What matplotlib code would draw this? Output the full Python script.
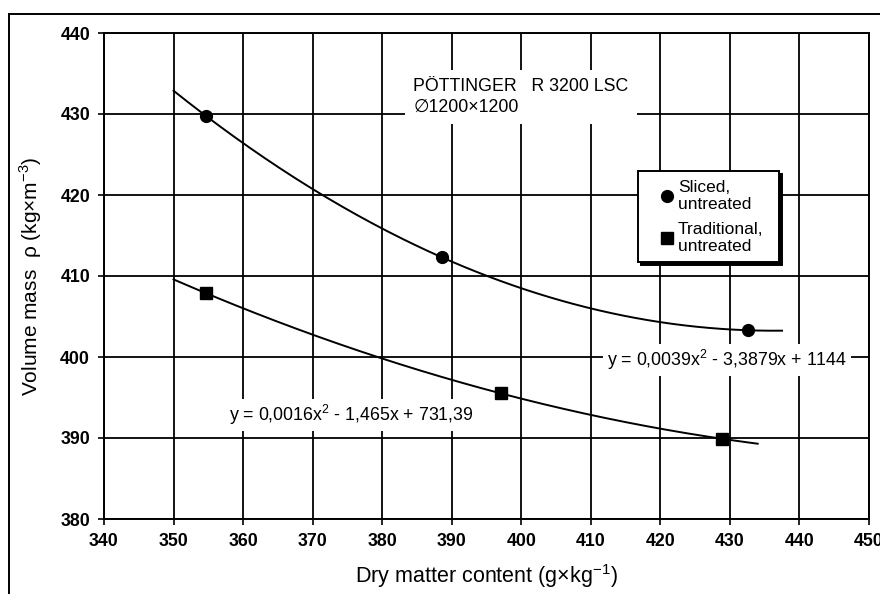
import numpy as np
import matplotlib
matplotlib.use("Agg")
import matplotlib.pyplot as plt
from matplotlib.lines import Line2D

plt.rcParams["font.family"] = ["Liberation Sans", "DejaVu Sans"]

# values
sliced_x = [354.6, 388.6, 432.6]
sliced_y = [429.8, 412.3, 403.3]
trad_x = [354.6, 397.1, 428.9]
trad_y = [407.9, 395.5, 389.9]

sliced_range = (350, 437.5)
trad_range = (350, 434)

sliced_eq = r"y = 0,0039x$^{\mathregular{2}}$ - 3,3879x + 1144"
trad_eq = r"y = 0,0016x$^{\mathregular{2}}$ - 1,465x + 731,39"
machine_text = "PÖTTINGER   R 3200 LSC\n\u22051200×1200"

x_ticks = list(range(340, 451, 10))
y_ticks = list(range(380, 441, 10))

fig = plt.figure(figsize=(8.8, 5.94), dpi=100)
ax = fig.add_axes([104 / 880, 1 - 519 / 594, 765 / 880, 486 / 594])

# outer frame of the scanned figure
fig.add_artist(Line2D([9 / 880, 9 / 880], [0, 1 - 14 / 594], transform=fig.transFigure,
                      color="black", lw=1.4))
fig.add_artist(Line2D([9 / 880, 1], [1 - 14 / 594, 1 - 14 / 594], transform=fig.transFigure,
                      color="black", lw=1.4))

ax.set_xlim(340, 450)
ax.set_ylim(380, 440)
ax.set_xticks(x_ticks)
ax.set_yticks(y_ticks)
ax.grid(True, color="black", lw=1.3)
ax.set_axisbelow(True)
for sp in ax.spines.values():
    sp.set_linewidth(1.4)
ax.tick_params(direction="out", length=4, width=1.2, labelsize=12.8, pad=6)
for lab in ax.get_xticklabels() + ax.get_yticklabels():
    lab.set_fontweight("bold")

# trendlines (2nd order fit through the points)
for xs, ys, rng in [(sliced_x, sliced_y, sliced_range), (trad_x, trad_y, trad_range)]:
    coef = np.polyfit(xs, ys, 2)
    xx = np.linspace(rng[0], rng[1], 200)
    ax.plot(xx, np.polyval(coef, xx), color="black", lw=1.4, zorder=3)

ax.plot(sliced_x, sliced_y, "o", color="black", ms=8.5, zorder=4, label="Sliced,\nuntreated    ")
ax.plot(trad_x, trad_y, "s", color="black", ms=8, zorder=4, label="Traditional,\nuntreated    ")

box = dict(facecolor="white", edgecolor="none", pad=3)
ax.text(429.6, 399.6, sliced_eq, fontsize=12.8, ha="center", va="center", bbox=box, zorder=5)
ax.text(375.5, 392.8, trad_eq, fontsize=12.8, ha="center", va="center", bbox=box, zorder=5)
ax.text(384.5, 434.4, machine_text, fontsize=12.8, ha="left", va="top", linespacing=1.25,
        bbox=dict(facecolor="white", edgecolor="none", pad=6), zorder=5)

leg = ax.legend(loc="upper left", bbox_to_anchor=(0.698, 0.716), borderaxespad=0,
                fancybox=False, shadow={"color": "black", "alpha": 1}, edgecolor="black",
                framealpha=1, fontsize=12.5, handlelength=2.3, handletextpad=-0.5,
                labelspacing=0.6, borderpad=0.5)
for t in leg.get_texts():
    t.set_linespacing(1.15)
leg.get_frame().set_linewidth(1.4)
leg.set_zorder(6)

ax.set_xlabel(r"Dry matter content (g×kg$^{\mathregular{-1}}$)", fontsize=15.5, labelpad=9)
ax.set_ylabel(r"Volume mass  ρ (kg×m$^{\mathregular{-3}}$)", fontsize=15, labelpad=12)

fig.savefig("out.png", dpi=100)
